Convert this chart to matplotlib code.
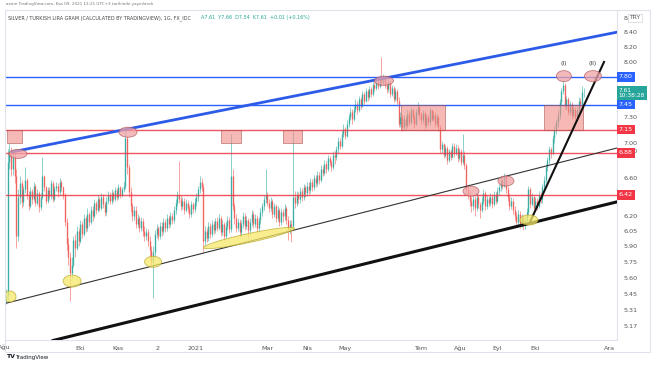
import matplotlib
matplotlib.use("Agg")
import matplotlib.pyplot as plt
import matplotlib.transforms as mtransforms
from matplotlib.patches import Ellipse, Rectangle
from matplotlib.ticker import NullLocator

# daily candles, x = trading-day index (early Aug 2020 -> 9 Nov 2021)
first_open = 5.40
close = [
    5.44, 6.78, 6.90, 6.70, 6.84, 6.62, 6.00, 6.40, 6.55, 6.35,
    6.48, 6.58, 6.42, 6.30, 6.46, 6.38, 6.52, 6.34, 6.44, 6.29,
    6.40, 6.62, 6.50, 6.36, 6.47, 6.41, 6.55, 6.38, 6.49, 6.52,
    6.45, 6.56, 6.50, 6.42, 6.14, 5.92, 5.80, 5.64, 5.72, 5.96,
    5.88, 6.05, 5.95, 6.12, 6.02, 6.18, 6.08, 6.22, 6.14, 6.26,
    6.20, 6.34, 6.26, 6.38, 6.28, 6.40, 6.32, 6.24, 6.36, 6.42,
    6.36, 6.44, 6.38, 6.47, 6.40, 6.50, 6.42, 6.48, 6.52, 7.05,
    6.72, 6.45, 6.30, 6.20, 6.26, 6.12, 6.18, 6.08, 6.15, 6.05,
    6.00, 6.04, 5.95, 5.86, 5.76, 5.84, 6.02, 6.08, 6.00, 6.10,
    6.05, 6.14, 6.08, 6.18, 6.12, 6.20, 6.16, 6.26, 6.34, 6.42,
    6.38, 6.30, 6.36, 6.26, 6.34, 6.28, 6.22, 6.32, 6.27, 6.35,
    6.40, 6.48, 6.56, 6.50, 5.95, 6.05, 5.98, 6.10, 6.02, 6.12,
    6.06, 6.15, 6.08, 6.18, 6.04, 6.12, 6.00, 6.10, 6.16, 6.07,
    6.62, 6.30, 6.18, 6.08, 6.14, 6.04, 6.12, 6.20, 6.10, 6.16,
    6.06, 6.14, 6.22, 6.12, 6.18, 6.08, 6.16, 6.24, 6.30, 6.38,
    6.42, 6.34, 6.28, 6.36, 6.22, 6.30, 6.18, 6.26, 6.14, 6.24,
    6.20, 6.28, 6.16, 6.06, 6.12, 6.10, 6.40, 6.34, 6.42, 6.38,
    6.46, 6.40, 6.50, 6.44, 6.52, 6.47, 6.56, 6.50, 6.60, 6.55,
    6.64, 6.58, 6.70, 6.66, 6.76, 6.70, 6.82, 6.78, 6.72, 6.86,
    6.84, 6.92, 7.02, 6.96, 7.10, 7.16, 7.08, 7.22, 7.30, 7.36,
    7.28, 7.40, 7.46, 7.38, 7.52, 7.44, 7.58, 7.50, 7.62, 7.55,
    7.64, 7.58, 7.70, 7.66, 7.74, 7.68, 7.78, 7.72, 7.80, 7.70,
    7.64, 7.74, 7.58, 7.66, 7.52, 7.62, 7.50, 7.22, 7.30, 7.18,
    7.28, 7.20, 7.34, 7.24, 7.38, 7.30, 7.22, 7.36, 7.42, 7.32,
    7.26, 7.35, 7.20, 7.30, 7.24, 7.38, 7.28, 7.33, 7.22, 7.30,
    7.18, 6.92, 6.98, 6.86, 6.94, 6.80, 6.90, 6.84, 6.96, 6.88,
    6.94, 6.82, 6.90, 6.78, 6.86, 6.74, 6.48, 6.42, 6.36, 6.30,
    6.38, 6.28, 6.40, 6.32, 6.26, 6.36, 6.44, 6.30, 6.38, 6.34,
    6.40, 6.32, 6.42, 6.36, 6.46, 6.50, 6.58, 6.52, 6.62, 6.48,
    6.40, 6.30, 6.36, 6.26, 6.20, 6.14, 6.22, 6.12, 6.18, 6.13,
    6.16, 6.24, 6.48, 6.32, 6.40, 6.28, 6.36, 6.30, 6.42, 6.38,
    6.50, 6.58, 6.72, 6.80, 6.92, 6.88, 7.05, 7.15, 7.24, 7.32,
    7.48, 7.62, 7.70, 7.44, 7.52, 7.36, 7.46, 7.32, 7.40, 7.30,
    7.38, 7.50, 7.46, 7.61, 7.61,
]
high = [
    5.50, 6.92, 7.00, 6.95, 6.90, 6.88, 6.70, 6.48, 6.62, 6.58,
    6.52, 6.72, 6.60, 6.46, 6.50, 6.48, 6.56, 6.54, 6.48, 6.46,
    6.44, 6.83, 6.64, 6.52, 6.50, 6.50, 6.58, 6.57, 6.52, 6.56,
    6.55, 6.60, 6.58, 6.52, 6.44, 6.18, 5.98, 5.84, 5.80, 6.00,
    6.02, 6.10, 6.08, 6.16, 6.15, 6.22, 6.20, 6.28, 6.24, 6.30,
    6.30, 6.38, 6.36, 6.42, 6.40, 6.44, 6.43, 6.35, 6.40, 6.46,
    6.45, 6.48, 6.46, 6.50, 6.49, 6.54, 6.52, 6.51, 6.56, 7.13,
    7.08, 6.76, 6.50, 6.34, 6.30, 6.30, 6.22, 6.20, 6.19, 6.18,
    6.10, 6.08, 6.07, 6.00, 5.90, 5.90, 6.06, 6.12, 6.10, 6.14,
    6.14, 6.18, 6.17, 6.22, 6.21, 6.24, 6.23, 6.30, 6.38, 6.46,
    6.79, 6.42, 6.40, 6.39, 6.38, 6.37, 6.31, 6.36, 6.35, 6.39,
    6.44, 6.52, 6.62, 6.60, 6.54, 6.10, 6.08, 6.14, 6.13, 6.16,
    6.15, 6.18, 6.19, 6.22, 6.20, 6.16, 6.14, 6.14, 6.20, 6.19,
    7.10, 6.70, 6.34, 6.22, 6.18, 6.17, 6.16, 6.24, 6.23, 6.20,
    6.18, 6.18, 6.26, 6.25, 6.22, 6.21, 6.19, 6.28, 6.34, 6.42,
    6.70, 6.45, 6.38, 6.40, 6.38, 6.34, 6.32, 6.30, 6.28, 6.28,
    6.27, 6.32, 6.30, 6.20, 6.16, 6.16, 7.15, 6.46, 6.46, 6.45,
    6.50, 6.49, 6.54, 6.53, 6.56, 6.56, 6.60, 6.59, 6.64, 6.63,
    6.68, 6.67, 6.74, 6.73, 6.80, 6.79, 6.86, 6.85, 6.80, 6.90,
    6.90, 6.96, 7.06, 7.05, 7.14, 7.22, 7.18, 7.26, 7.34, 7.42,
    7.40, 7.44, 7.52, 7.50, 7.56, 7.55, 7.62, 7.61, 7.66, 7.65,
    7.68, 7.67, 7.74, 7.73, 7.78, 7.77, 7.82, 8.06, 7.84, 7.83,
    7.74, 7.78, 7.76, 7.70, 7.68, 7.66, 7.64, 7.54, 7.36, 7.34,
    7.32, 7.31, 7.38, 7.37, 7.42, 7.41, 7.33, 7.40, 7.48, 7.45,
    7.36, 7.38, 7.37, 7.34, 7.33, 7.42, 7.40, 7.37, 7.36, 7.34,
    7.33, 7.20, 7.02, 7.00, 6.97, 6.96, 6.93, 6.93, 7.00, 6.99,
    6.98, 6.97, 6.94, 6.93, 7.10, 6.90, 6.77, 6.52, 6.46, 6.40,
    6.42, 6.41, 6.44, 6.43, 6.35, 6.40, 6.48, 6.46, 6.42, 6.41,
    6.44, 6.43, 6.46, 6.45, 6.50, 6.54, 6.62, 6.61, 6.66, 6.64,
    6.52, 6.43, 6.40, 6.39, 6.30, 6.24, 6.26, 6.25, 6.22, 6.21,
    6.20, 6.28, 6.52, 6.50, 6.44, 6.42, 6.40, 6.39, 6.46, 6.45,
    6.54, 6.62, 6.76, 6.84, 6.96, 6.95, 7.09, 7.19, 7.28, 7.38,
    7.52, 7.66, 7.76, 7.72, 7.56, 7.54, 7.50, 7.48, 7.44, 7.42,
    7.42, 7.54, 7.53, 7.68, 7.66,
]
low = [
    5.36, 5.40, 6.70, 6.62, 6.64, 6.55, 5.88, 5.95, 6.32, 6.28,
    6.30, 6.44, 6.38, 6.26, 6.28, 6.33, 6.36, 6.30, 6.31, 6.24,
    6.26, 6.38, 6.46, 6.32, 6.34, 6.38, 6.38, 6.35, 6.36, 6.46,
    6.40, 6.42, 6.46, 6.38, 6.10, 5.86, 5.72, 5.39, 5.60, 5.70,
    5.80, 5.86, 5.90, 5.93, 5.98, 6.00, 6.04, 6.05, 6.10, 6.12,
    6.15, 6.18, 6.22, 6.24, 6.25, 6.26, 6.28, 6.20, 6.21, 6.32,
    6.32, 6.33, 6.35, 6.36, 6.37, 6.38, 6.39, 6.40, 6.45, 6.48,
    6.65, 6.40, 6.24, 6.15, 6.16, 6.08, 6.09, 6.04, 6.05, 6.00,
    5.95, 5.96, 5.90, 5.80, 5.72, 5.42, 5.80, 5.98, 5.96, 5.97,
    6.00, 6.02, 6.04, 6.05, 6.08, 6.09, 6.12, 6.13, 6.22, 6.30,
    6.34, 6.26, 6.27, 6.22, 6.24, 6.24, 6.18, 6.19, 6.23, 6.24,
    6.30, 6.36, 6.44, 6.46, 5.84, 5.90, 5.94, 5.95, 5.98, 5.99,
    6.02, 6.03, 6.05, 6.06, 6.00, 6.01, 5.96, 5.98, 6.06, 6.03,
    6.04, 6.26, 6.12, 6.04, 6.05, 5.99, 6.00, 6.08, 6.06, 6.07,
    5.98, 6.02, 6.10, 6.08, 6.09, 6.03, 6.05, 6.12, 6.20, 6.26,
    6.34, 6.30, 6.24, 6.25, 6.18, 6.19, 6.14, 6.15, 6.10, 6.11,
    6.14, 6.16, 6.12, 5.96, 6.02, 5.94, 6.06, 6.28, 6.30, 6.33,
    6.34, 6.36, 6.37, 6.40, 6.41, 6.43, 6.44, 6.46, 6.47, 6.51,
    6.52, 6.54, 6.56, 6.62, 6.63, 6.66, 6.68, 6.74, 6.68, 6.70,
    6.76, 6.80, 6.88, 6.92, 6.94, 7.06, 7.04, 7.06, 7.18, 7.26,
    7.22, 7.25, 7.36, 7.34, 7.36, 7.40, 7.42, 7.46, 7.48, 7.50,
    7.52, 7.54, 7.56, 7.62, 7.63, 7.64, 7.66, 7.68, 7.70, 7.66,
    7.60, 7.61, 7.55, 7.56, 7.48, 7.50, 7.46, 7.18, 7.18, 7.14,
    7.15, 7.16, 7.18, 7.20, 7.22, 7.26, 7.17, 7.20, 7.33, 7.28,
    7.22, 7.23, 7.16, 7.18, 7.20, 7.21, 7.25, 7.25, 7.18, 7.19,
    7.14, 6.88, 6.88, 6.82, 6.84, 6.76, 6.78, 6.80, 6.82, 6.84,
    6.86, 6.78, 6.80, 6.74, 6.76, 6.70, 6.44, 6.38, 6.30, 6.24,
    6.26, 6.20, 6.25, 6.28, 6.18, 6.24, 6.33, 6.26, 6.27, 6.30,
    6.30, 6.28, 6.30, 6.32, 6.34, 6.42, 6.46, 6.48, 6.50, 6.44,
    6.36, 6.26, 6.27, 6.22, 6.16, 6.10, 6.11, 6.08, 6.09, 6.06,
    6.07, 6.12, 6.20, 6.28, 6.30, 6.24, 6.25, 6.26, 6.28, 6.34,
    6.34, 6.46, 6.55, 6.68, 6.76, 6.82, 6.86, 7.00, 7.10, 7.18,
    7.28, 7.44, 7.58, 7.40, 7.40, 7.32, 7.33, 7.28, 7.29, 7.26,
    7.26, 7.35, 7.42, 7.44, 7.54,
]

# axis labels
price_ticks = [8.60, 8.40, 8.20, 8.00, 7.30, 7.00, 6.90, 6.60, 6.20, 6.05,
               5.90, 5.75, 5.60, 5.45, 5.31, 5.17]
month_pos = [43.1, 64.7, 87.3, 109.5, 150.9, 174.4, 196.0, 239.7, 262.4,
             284.2, 305.8, 349.0]
month_lbl = ["Eki", "Kas", "2", "2021", "Mar", "Nis", "May", "Tem", "Ağu",
             "Eyl", "Eki", "Ara"]

# drawings (trading-day index, price)
blue_trend = ([2.9, 353.8], [6.89, 8.40])
thin_trend = ([0.0, 353.8], [5.37, 6.94])
thick_trend = ([27.2, 353.8], [5.05, 6.35])
steep_trend = ([302.9, 345.7], [6.14, 7.995])
blue_levels = [7.80, 7.45]
red_levels = [7.15, 6.88, 6.42]
boxes = [(0.6, 9.2, 6.995, 7.15), (124.3, 135.8, 6.995, 7.15),
         (160.1, 171.1, 6.995, 7.15), (228.3, 253.8, 7.15, 7.45),
         (311.0, 333.5, 7.15, 7.45)]
# (index, price, width px, height px, angle)
yellow_marks = [(2.3, 5.43, 12, 11, 0), (38.2, 5.57, 18, 12, 0),
                (85.0, 5.75, 17, 11, 0), (140.5, 5.98, 93, 9, 12),
                (302.3, 6.16, 18, 10, 0)]
pink_marks = [(6.9, 6.87, 18, 9, 0), (70.5, 7.12, 18, 10, 0),
              (218.5, 7.75, 19, 9, 0), (268.8, 6.46, 16, 10, 0),
              (289.0, 6.57, 16, 10, 0), (322.5, 7.81, 15, 11, 0),
              (339.3, 7.81, 17, 11, 0)]
wave_lbl = [(322.5, "(I)"), (339.3, "(II)")]
badges = [(7.80, "#2962ff"), (7.45, "#2962ff"), (7.15, "#f23645"),
          (6.88, "#f23645"), (6.42, "#f23645")]

UP, DOWN = "#26a69a", "#ef5350"

fig = plt.figure(figsize=(6.54, 3.66), dpi=100)
W, H = 654, 366
ax = fig.add_axes([5 / W, 26 / H, 612 / W, 330 / H])
ax.set_yscale("log")

opens = [first_open] + close[:-1]
xs = list(range(len(close)))
cols = [UP if c >= o else DOWN for o, c in zip(opens, close)]
ax.vlines(xs, low, high, colors=cols, lw=0.5, alpha=0.75, zorder=2)
ax.vlines(xs, [min(o, c) for o, c in zip(opens, close)],
          [max(o, c) for o, c in zip(opens, close)],
          colors=cols, lw=1.0, alpha=0.8, zorder=2)

for lv in blue_levels:
    ax.axhline(lv, color="#2962ff", lw=1.0, zorder=3)
for lv in red_levels:
    ax.axhline(lv, color="#f23645", lw=1.0, alpha=0.85, zorder=3)

for x0, x1, p0, p1 in boxes:
    ax.add_patch(Rectangle((x0, p0), x1 - x0, p1 - p0, fc="#f28b86", alpha=0.6,
                           ec="#9c4a48", lw=0.6, zorder=4))

ax.plot(*blue_trend, color="#2c5be8", lw=2.0, zorder=5, solid_capstyle="butt")
ax.plot(*thin_trend, color="#333333", lw=0.8, zorder=5)
ax.plot(*thick_trend, color="#111111", lw=2.2, zorder=5)
ax.plot(*steep_trend, color="#111111", lw=1.5, zorder=5)


def blob(i, p, w, h, ang, fc, ec):
    tr = fig.dpi_scale_trans + mtransforms.ScaledTranslation(i, p, ax.transData)
    ax.add_patch(Ellipse((0, 0), w / 100, h / 100, angle=ang, transform=tr,
                         fc=fc, ec=ec, lw=0.6, alpha=0.75, zorder=6))


for i, p, w, h, a in yellow_marks:
    blob(i, p, w, h, a, "#f6e96b", "#b9a825")
for i, p, w, h, a in pink_marks:
    blob(i, p, w, h, a, "#f0a3a6", "#b0585c")
for i, s in wave_lbl:
    ax.annotate(s, (i, 7.81), xytext=(0, 9), textcoords="offset points",
                ha="center", va="center", fontsize=4.3, color="#333")

ax.set_xlim(-0.6, 353.2)
ax.set_ylim(5.054, 8.71)

ax.yaxis.tick_right()
ax.yaxis.set_minor_locator(NullLocator())
ax.set_yticks(price_ticks, [f"{t:.2f}" for t in price_ticks])
ax.tick_params(axis="y", length=0, pad=5, labelsize=4.6, labelcolor="#555")
ax.set_xticks(month_pos, month_lbl)
ax.tick_params(axis="x", length=0, pad=4, labelsize=4.6, labelcolor="#555")
for s in ("top", "left"):
    ax.spines[s].set_visible(False)
for s in ("right", "bottom"):
    ax.spines[s].set_color("#e0e3eb")
    ax.spines[s].set_linewidth(0.8)

ytr = ax.get_yaxis_transform()
for lv, c in badges:
    ax.text(1.003, lv, f"{lv:.2f}", transform=ytr, ha="left", va="center",
            fontsize=4.6, color="white", zorder=10,
            bbox=dict(boxstyle="square,pad=0.35", fc=c, ec="none"))
ax.annotate(f"{close[-1]:.2f}\n10:38:28", (1.003, close[-1]), xycoords=ytr,
            xytext=(0, 3), textcoords="offset points", ha="left", va="top",
            fontsize=4.2, color="white", linespacing=1.1, zorder=10,
            bbox=dict(boxstyle="square,pad=0.35", fc="#26a69a", ec="none"))
ax.text(1.02, 8.60, "TRY", transform=ytr, ha="left", va="center",
        fontsize=4.3, color="#555", zorder=10,
        bbox=dict(boxstyle="square,pad=0.25", fc="white", ec="#cfd2da", lw=0.5))

# frame, header and footer
fig.patches.append(Rectangle((5 / W, 14 / H), 645 / W, 342 / H,
                             transform=fig.transFigure, fill=False,
                             ec="#e0e3eb", lw=0.8))
fig.text(6 / W, 1 - 4 / H, "asmn TradingView.com, Kas 09, 2021 13:21 UTC+3 "
         "tarihinde yayınlandı", fontsize=3.0, color="#777", va="center")
fig.text(8 / W, 1 - 18 / H, "SILVER / TURKISH LIRA GRAM (CALCULATED BY "
         "TRADINGVIEW), 1G, FX_IDC", fontsize=3.5, color="#444", va="center")
fig.text(201 / W, 1 - 18 / H, "A7.61  Y7.66  D7.54  K7.61  +0.01 (+0.16%)",
         fontsize=3.5, color="#26a69a", va="center")
fig.text(4 / W, 1 - 347 / H, "Ağu", fontsize=4.6, color="#555", va="center",
         ha="center")
fig.text(6 / W, 1 - 357 / H, "TV", fontsize=4.5, color="#131722",
         fontweight="bold", va="center")
fig.text(15 / W, 1 - 357 / H, "TradingView", fontsize=4.0, color="#131722",
         va="center")

fig.savefig("out.png", dpi=100)
